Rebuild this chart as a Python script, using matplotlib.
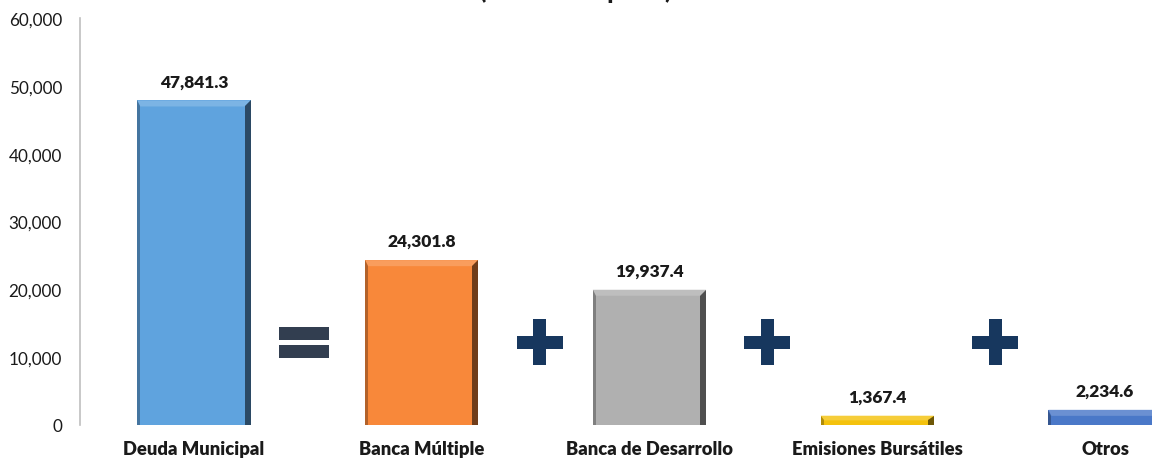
import matplotlib
matplotlib.use("Agg")
import matplotlib.pyplot as plt
from matplotlib.patches import Polygon, Rectangle
import matplotlib.colors as mcolors

categories = ["Deuda Municipal", "Banca Múltiple", "Banca de Desarrollo", "Emisiones Bursátiles", "Otros"]
values = [47841.3, 24301.8, 19937.4, 1367.4, 2234.6]
value_labels = ["47,841.3", "24,301.8", "19,937.4", "1,367.4", "2,234.6"]
operators = ["=", "+", "+", "+"]
yticks = [0, 10000, 20000, 30000, 40000, 50000, 60000]
ytick_labels = ["0", "10,000", "20,000", "30,000", "40,000", "50,000", "60,000"]
title = "(Millones de pesos)"

colors = ["#5fa3de", "#f8883a", "#b0b0b0", "#f4c20d", "#4a78c8"]

plt.rcParams['font.family'] = ['Lato', 'DejaVu Sans']

W, H = 1152, 460
fig = plt.figure(figsize=(W / 100, H / 100), dpi=100)
ax_left, ax_right = 80 / W, 1.0
ax_bottom, ax_top = 1 - 426 / H, 1 - 19 / H
ax = fig.add_axes([ax_left, ax_bottom, ax_right - ax_left, ax_top - ax_bottom])

xmin, xmax = -0.5, 4.206
ymin, ymax = 0, 60000
ax.set_xlim(xmin, xmax)
ax.set_ylim(ymin, ymax)

# pixel -> data conversion
px_x = (xmax - xmin) / ((ax_right - ax_left) * W)
px_y = (ymax - ymin) / ((ax_top - ax_bottom) * H)

bw = 0.497
for i, (v, c) in enumerate(zip(values, colors)):
    x0 = i - bw / 2
    x1 = i + bw / 2
    ax.add_patch(Rectangle((x0, 0), bw, v, facecolor=c, edgecolor='none', zorder=2))
    rgb = mcolors.to_rgb(c)
    light = tuple(min(1, ch + (1 - ch) * 0.18) for ch in rgb)
    dark = tuple(ch * 0.45 for ch in rgb)
    mid = tuple(ch * 0.72 for ch in rgb)
    bx = 6 * px_x
    by = min(6 * px_y, v / 2)
    bxl = 3 * px_x
    # top bevel
    ax.add_patch(Polygon([(x0, v), (x1, v), (x1 - bx, v - by), (x0 + bxl, v - by)],
                         closed=True, facecolor=light, edgecolor='none', zorder=3))
    # right bevel
    ax.add_patch(Polygon([(x1, v), (x1, 0), (x1 - bx, 0), (x1 - bx, v - by)],
                         closed=True, facecolor=dark, edgecolor='none', zorder=3))
    # left bevel
    ax.add_patch(Polygon([(x0, v), (x0, 0), (x0 + bxl, 0), (x0 + bxl, v - by)],
                         closed=True, facecolor=mid, edgecolor='none', zorder=3))
    ax.annotate(value_labels[i], (i, v), xytext=(0, 8), textcoords='offset points',
                ha='center', va='bottom', fontsize=12.5, fontweight='heavy', color='#1a1a1a',
                zorder=5)

# operators between bars
op_y = 12200
for k, op in enumerate(operators):
    xc = k + 0.5
    if op == "=":
        w = 50 * px_x
        t = 13 * px_y
        gap = 5 * px_y
        col = "#323e50"
        ax.add_patch(Rectangle((xc - w / 2 - 4 * px_x, op_y + gap / 2), w, t, facecolor=col, edgecolor='none', zorder=3))
        ax.add_patch(Rectangle((xc - w / 2 - 4 * px_x, op_y - gap / 2 - t), w, t, facecolor=col, edgecolor='none', zorder=3))
    else:
        w = 46 * px_x
        h = 46 * px_y
        tx = 13 * px_x
        ty = 13 * px_y
        col = "#17375e"
        xs = xc + 4 * px_x
        ax.add_patch(Rectangle((xs - w / 2, op_y - ty / 2), w, ty, facecolor=col, edgecolor='none', zorder=3))
        ax.add_patch(Rectangle((xs - tx / 2, op_y - h / 2), tx, h, facecolor=col, edgecolor='none', zorder=3))

ax.set_yticks(yticks)
ax.set_yticklabels(ytick_labels, fontsize=12.3, color='#1a1a1a')
ax.set_xticks(range(len(categories)))
ax.set_xticklabels(categories, fontsize=13.2, fontweight='heavy', color='#1a1a1a')
ax.tick_params(axis='y', length=0, pad=13)
ax.tick_params(axis='x', length=0, pad=11)
for s in ['top', 'right', 'bottom']:
    ax.spines[s].set_visible(False)
ax.spines['left'].set_color('#bfbfbf')
ax.spines['left'].set_linewidth(1.2)

fig.text(0.5, 1 + 1 / H, title, ha='center', va='baseline', fontsize=16, fontweight='heavy',
         color='#1a1a1a')

fig.savefig("out.png", dpi=100)
